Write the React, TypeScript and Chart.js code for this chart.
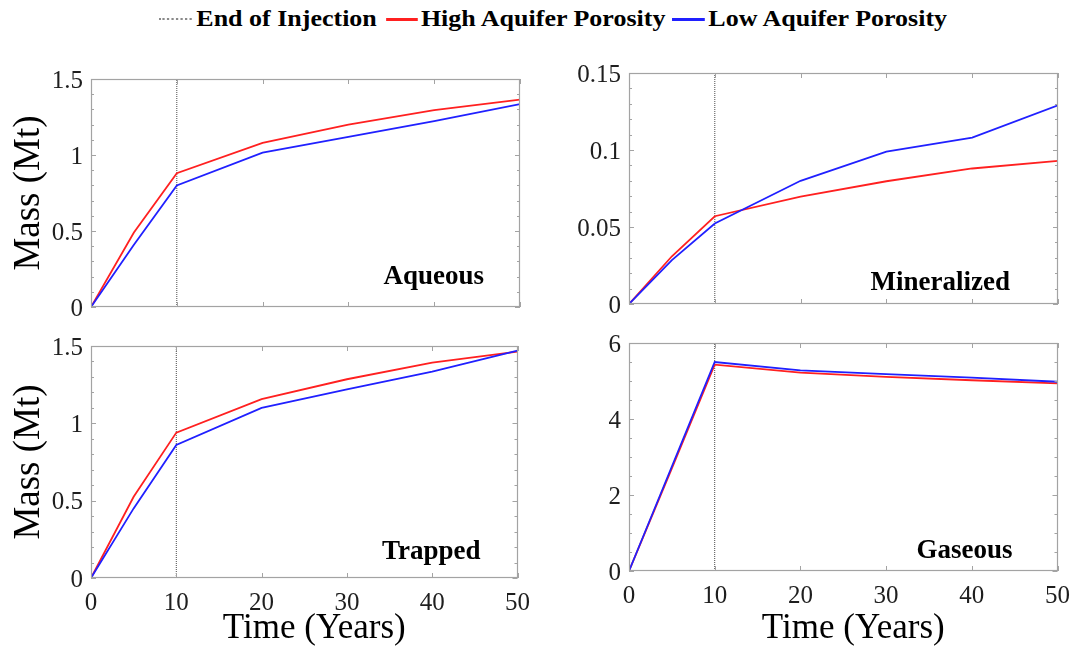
import React, { useEffect, useRef } from "react";
import { Chart, registerables } from "chart.js";

Chart.register(...registerables);

// ---------------- data ----------------
const years = [0, 5, 10, 20, 30, 40, 50];
const injectionEnd = 10;

const aqueousHigh = [0, 0.49, 0.88, 1.08, 1.2, 1.295, 1.365];
const aqueousLow = [0, 0.41, 0.8, 1.015, 1.12, 1.223, 1.335];

const mineralizedHigh = [0, 0.031, 0.057, 0.0697, 0.0797, 0.088, 0.093];
const mineralizedLow = [0, 0.0285, 0.0523, 0.08, 0.099, 0.108, 0.129];

const trappedHigh = [0, 0.525, 0.94, 1.157, 1.285, 1.392, 1.463];
const trappedLow = [0, 0.45, 0.86, 1.1, 1.22, 1.334, 1.47];

const gaseousHigh = [0, 2.7, 5.43, 5.22, 5.11, 5.02, 4.94];
const gaseousLow = [0, 2.75, 5.5, 5.28, 5.18, 5.09, 4.98];

const xTickValues = [0, 10, 20, 30, 40, 50];
const xTickLabels = ["0", "10", "20", "30", "40", "50"];

const massTickValues = [0, 0.5, 1, 1.5];
const massTickLabels = ["0", "0.5", "1", "1.5"];
const mineralTickValues = [0, 0.05, 0.1, 0.15];
const mineralTickLabels = ["0", "0.05", "0.1", "0.15"];
const gasTickValues = [0, 2, 4, 6];
const gasTickLabels = ["0", "2", "4", "6"];

const legendLabels = ["End of Injection", "High Aquifer Porosity", "Low Aquifer Porosity"];
const panelNames = ["Aqueous", "Mineralized", "Trapped", "Gaseous"];
const xTitle = "Time (Years)";
const yTitle = "Mass (Mt)";

// ---------------- style ----------------
const RED = "#ff2020";
const BLUE = "#2020ff";
const FRAME = "#a3a3a3";
const TEXT = "#1e1e1e";
const SERIF = '"Liberation Serif", "Times New Roman", serif';

type Panel = {
  name: string;
  high: number[];
  low: number[];
  yMax: number;
  yTicks: number[];
  yLabels: string[];
  minorStep: number;
  left: number;
  top: number;
  w: number;
  h: number;
  pad: { left: number; right: number; top: number; bottom: number };
  yW: number;
  xH: number;
  showX: boolean;
  showYTitle: boolean;
  lblRight: number;
  lblBottom: number;
};

const panels: Panel[] = [
  {
    name: panelNames[0], high: aqueousHigh, low: aqueousLow, yMax: 1.5,
    yTicks: massTickValues, yLabels: massTickLabels, minorStep: 0.1,
    left: 0, top: 40, w: 540, h: 290, pad: { left: 0, right: 20, top: 39, bottom: 0 },
    yW: 91, xH: 19, showX: false, showYTitle: true, lblRight: 36, lblBottom: 23,
  },
  {
    name: panelNames[1], high: mineralizedHigh, low: mineralizedLow, yMax: 0.15,
    yTicks: mineralTickValues, yLabels: mineralTickLabels, minorStep: 0.01,
    left: 540, top: 40, w: 540, h: 290, pad: { left: 0, right: 22, top: 33, bottom: 0 },
    yW: 89, xH: 26, showX: false, showYTitle: false, lblRight: 48, lblBottom: 14,
  },
  {
    name: panelNames[2], high: trappedHigh, low: trappedLow, yMax: 1.5,
    yTicks: massTickValues, yLabels: massTickLabels, minorStep: 0.1,
    left: 0, top: 320, w: 540, h: 326, pad: { left: 0, right: 20, top: 26, bottom: 0 },
    yW: 91, xH: 68, showX: true, showYTitle: true, lblRight: 37, lblBottom: 19,
  },
  {
    name: panelNames[3], high: gaseousHigh, low: gaseousLow, yMax: 6,
    yTicks: gasTickValues, yLabels: gasTickLabels, minorStep: 0.5,
    left: 540, top: 320, w: 540, h: 326, pad: { left: 0, right: 22, top: 19, bottom: 0 },
    yW: 89, xH: 75, showX: true, showYTitle: false, lblRight: 45, lblBottom: 13,
  },
];

const framePlugin = {
  id: "frame",
  afterDatasetsDraw(chart: any, _args: any, opts: any) {
    const { ctx, chartArea } = chart;
    const { left, right, top, bottom } = chartArea;
    const xs = chart.scales.x;
    const ys = chart.scales.y;
    ctx.save();
    ctx.strokeStyle = FRAME;
    ctx.lineWidth = 1;
    ctx.beginPath();
    xs.ticks.forEach((t: any) => {
      const px = Math.round(xs.getPixelForValue(t.value)) + 0.5;
      ctx.moveTo(px, bottom);
      ctx.lineTo(px, bottom - 5);
      ctx.moveTo(px, top);
      ctx.lineTo(px, top + 5);
    });
    ys.ticks.forEach((t: any) => {
      const py = Math.round(ys.getPixelForValue(t.value)) + 0.5;
      ctx.moveTo(left, py);
      ctx.lineTo(left + 5, py);
      ctx.moveTo(right, py);
      ctx.lineTo(right - 5, py);
    });
    const n = Math.round(opts.yMax / opts.minorStep);
    for (let i = 1; i < n; i++) {
      const py = Math.round(ys.getPixelForValue(i * opts.minorStep)) + 0.5;
      ctx.moveTo(left, py);
      ctx.lineTo(left + 3, py);
      ctx.moveTo(right, py);
      ctx.lineTo(right - 3, py);
    }
    ctx.stroke();
    ctx.lineWidth = 1.2;
    ctx.strokeRect(Math.round(left) + 0.5, Math.round(top) + 0.5, Math.round(right - left) - 1, Math.round(bottom - top) - 1);
    // panel label
    ctx.font = `bold 27px ${SERIF}`;
    ctx.fillStyle = "#000";
    ctx.textAlign = "right";
    ctx.textBaseline = "alphabetic";
    ctx.fillText(opts.text, right - opts.dr, bottom - opts.db);
    // x axis title
    if (opts.showX) {
      ctx.font = `35px ${SERIF}`;
      ctx.textAlign = "center";
      ctx.fillText(xTitle, (left + right) / 2 + 10, opts.xTitleY);
    }
    ctx.restore();
  },
};

function makeConfig(p: Panel): any {
  const tickFont = { family: SERIF, size: 25 };
  return {
    type: "line",
    data: {
      datasets: [
        {
          label: legendLabels[0],
          data: [{ x: injectionEnd, y: 0 }, { x: injectionEnd, y: p.yMax }],
          borderColor: "#4a4a4a",
          borderWidth: 1,
          borderDash: [1, 1],
          pointRadius: 0,
          order: 3,
        },
        {
          label: legendLabels[1],
          data: years.map((t, i) => ({ x: t, y: p.high[i] })),
          borderColor: RED,
          borderWidth: 1.8,
          pointRadius: 0,
          tension: 0,
          order: 2,
        },
        {
          label: legendLabels[2],
          data: years.map((t, i) => ({ x: t, y: p.low[i] })),
          borderColor: BLUE,
          borderWidth: 1.8,
          pointRadius: 0,
          tension: 0,
          order: 1,
        },
      ],
    },
    options: {
      responsive: false,
      animation: false,
      devicePixelRatio: 1,
      events: [],
      layout: { padding: p.pad },
      plugins: {
        legend: { display: false },
        tooltip: { enabled: false },
        frame: {
          text: p.name,
          dr: p.lblRight,
          db: p.lblBottom,
          yMax: p.yMax,
          minorStep: p.minorStep,
          showX: p.showX,
          xTitleY: 638 - p.top,
        },
      },
      scales: {
        x: {
          type: "linear",
          min: 0,
          max: 50,
          afterBuildTicks: (s: any) => {
            s.ticks = xTickValues.map((v) => ({ value: v }));
          },
          afterFit: (s: any) => {
            s.height = p.xH;
          },
          ticks: {
            display: p.showX,
            autoSkip: false,
            maxRotation: 0,
            padding: 10,
            color: TEXT,
            font: tickFont,
            callback: (_v: any, i: number) => xTickLabels[i],
          },
          grid: { display: false, drawTicks: false },
          border: { display: false },
          title: { display: false },
        },
        y: {
          type: "linear",
          min: 0,
          max: p.yMax,
          afterBuildTicks: (s: any) => {
            s.ticks = p.yTicks.map((v) => ({ value: v }));
          },
          afterFit: (s: any) => {
            s.width = p.yW;
          },
          ticks: {
            autoSkip: false,
            padding: 8,
            labelOffset: 2,
            color: TEXT,
            font: tickFont,
            callback: (_v: any, i: number) => p.yLabels[i],
          },
          grid: { display: false, drawTicks: false },
          border: { display: false },
          title: {
            display: p.showYTitle,
            text: yTitle,
            color: "#000",
            font: { family: SERIF, size: 37, lineHeight: 1 },
            padding: { top: 11, bottom: 0 },
          },
        },
      },
    },
    plugins: [framePlugin],
  };
}

function PanelChart({ p }: { p: Panel }) {
  const ref = useRef<HTMLCanvasElement | null>(null);
  useEffect(() => {
    if (!ref.current) return;
    const chart = new Chart(ref.current, makeConfig(p));
    return () => chart.destroy();
  }, [p]);
  return (
    <canvas
      ref={ref}
      width={p.w}
      height={p.h}
      style={{ position: "absolute", left: p.left, top: p.top, width: p.w, height: p.h }}
    />
  );
}

function Legend() {
  const sample = (style: React.CSSProperties) => (
    <span style={{ display: "inline-block", height: 0, ...style }} />
  );
  return (
    <div
      style={{
        position: "absolute",
        left: 159,
        top: 6,
        display: "flex",
        alignItems: "center",
        whiteSpace: "nowrap",
        font: `bold 23px ${SERIF}`,
        lineHeight: "26px",
        color: "#000",
        transform: "scaleX(1.13)",
        transformOrigin: "left center",
      }}
    >
      {sample({ width: 29, borderTop: "2px dotted #8a8a8a", marginRight: 4 })}
      <span>{legendLabels[0]}</span>
      {sample({ width: 28, borderTop: `3px solid ${RED}`, marginLeft: 8, marginRight: 3 })}
      <span>{legendLabels[1]}</span>
      {sample({ width: 29, borderTop: `3px solid ${BLUE}`, marginLeft: 6, marginRight: 3 })}
      <span>{legendLabels[2]}</span>
    </div>
  );
}

export default function App() {
  return (
    <div
      style={{
        position: "absolute",
        left: 0,
        top: 0,
        width: 1080,
        height: 646,
        background: "#fff",
        overflow: "hidden",
      }}
    >
      <Legend />
      {panels.map((p) => (
        <PanelChart key={p.name} p={p} />
      ))}
    </div>
  );
}
